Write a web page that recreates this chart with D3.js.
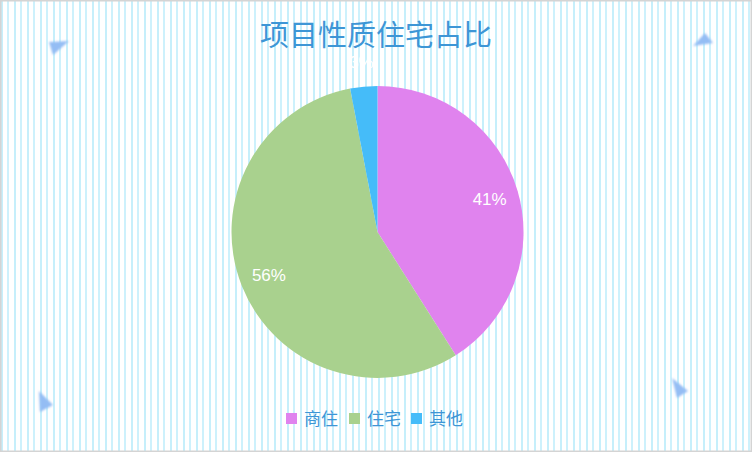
<!DOCTYPE html>
<html><head><meta charset="utf-8">
<script src="https://cdn.jsdelivr.net/npm/d3@7"></script>
<style>html,body{margin:0;padding:0;background:#fff;}svg{display:block;}</style>
</head><body>
<svg id="c" width="752" height="465"></svg>
<script>
const title = "项目性质住宅占比";
const categories = ["商住", "住宅", "其他"];
const values = [41, 56, 3];
const colors = ["#e083ee", "#a9d18e", "#45bcf9"];

const svg = d3.select("#c");
const W = 752, H = 452;
const defs = svg.append("defs");
const pat = defs.append("pattern").attr("id","stripes").attr("patternUnits","userSpaceOnUse")
  .attr("width",13).attr("height",10);
pat.append("rect").attr("width",13).attr("height",10).attr("fill","#fff");
[[1,2,"#c6effb"],[7,2,"#cdf1fc"]].forEach(([x,w,c])=>{
  pat.append("rect").attr("x",x).attr("width",w).attr("height",10).attr("fill",c);
});
defs.append("filter").attr("id","blur").attr("x","-50%").attr("y","-50%").attr("width","200%").attr("height","200%")
  .append("feGaussianBlur").attr("stdDeviation",1.2);

svg.append("rect").attr("x",0).attr("y",0).attr("width",W).attr("height",H).attr("fill","url(#stripes)");
svg.append("rect").attr("x",0.75).attr("y",0.75).attr("width",W-1.5).attr("height",H-1.5)
  .attr("fill","none").attr("stroke","#d4d4d4").attr("stroke-width",1.5);

// decorative triangles
const tris = [[[49,42],[69,41],[53,55]],[[693,46],[705,33],[713,43]],[[39,391],[53,405],[40,412]],[[672,378],[688,391],[677,398]]];
svg.append("g").selectAll("polygon").data(tris).join("polygon")
  .attr("points",d=>d.map(p=>p.join(",")).join(" "))
  .attr("fill","#94bdf4").attr("filter","url(#blur)");

svg.append("text").attr("x",376).attr("y",46).attr("text-anchor","middle")
  .attr("font-family","'Noto Sans CJK SC', sans-serif").attr("font-size",29)
  .attr("fill","#3d96d6").text(title);

const cx = 377.5, cy = 232, r = 146;
const pie = d3.pie().sort(null).value(d=>d.v);
const data = pie(categories.map((c,i)=>({c, v: values[i], col: colors[i]})));
const arc = d3.arc().innerRadius(0).outerRadius(r);
const g = svg.append("g").attr("transform",`translate(${cx},${cy})`);
g.selectAll("path").data(data).join("path").attr("d",arc).attr("fill",d=>d.data.col);
const total = d3.sum(values);
g.selectAll("text").data(data).join("text")
  .attr("transform",d=>{
    const a=(d.startAngle+d.endAngle)/2;
    const small = d.data.v/total < 0.05;
    const rr = small ? r*1.17 : r*0.8;
    return `translate(${Math.sin(a)*rr},${-Math.cos(a)*rr})`;
  })
  .attr("text-anchor","middle").attr("dy","0.35em")
  .attr("font-family","'Liberation Sans', Arial, sans-serif").attr("font-size",17)
  .attr("fill","#fff").text(d=>Math.round(d.data.v/total*100)+"%");

// legend
const legX = [286, 349, 411];
const lg = svg.append("g");
categories.forEach((c,i)=>{
  lg.append("rect").attr("x",legX[i]).attr("y",413).attr("width",11).attr("height",11).attr("fill",colors[i]);
  lg.append("text").attr("x",legX[i]+18).attr("y",425)
    .attr("font-family","'Noto Sans CJK SC', sans-serif").attr("font-size",17)
    .attr("fill","#3d96d6").text(c);
});
</script>
</body></html>
